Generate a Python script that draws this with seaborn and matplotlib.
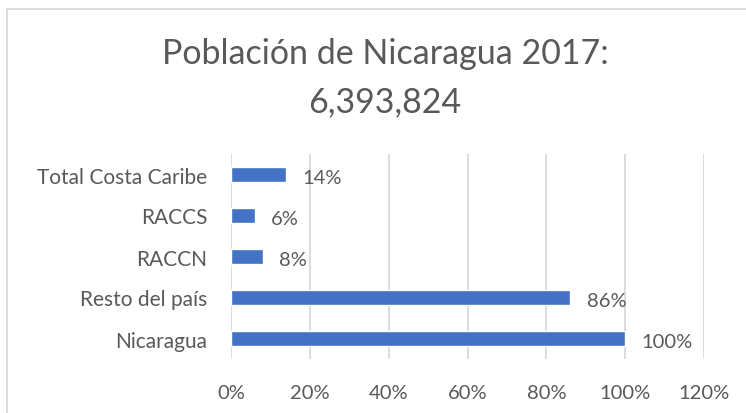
import pandas as pd
import seaborn as sns
from matplotlib import pyplot as plt
from matplotlib.patches import Rectangle

# data
categories = ["Total Costa Caribe", "RACCS", "RACCN", "Resto del país", "Nicaragua"]
shares = [14, 6, 8, 86, 100]
x_ticks = [0, 20, 40, 60, 80, 100, 120]
title = "Población de Nicaragua 2017:\n6,393,824"

BAR = "#4472C4"
TXT = "#595959"
GRID = "#D9D9D9"

sns.set_style("white")
plt.rcParams["font.family"] = ["Lato", "DejaVu Sans"]

df = pd.DataFrame({"region": categories, "share": shares})

W, H = 746, 414
fig = plt.figure(figsize=(W / 100, H / 100), dpi=100)
ax = fig.add_axes([231 / W, 1 - 360 / H, (704 - 231) / W, (360 - 155) / H])

sns.barplot(data=df, x="share", y="region", order=categories, color=BAR,
            width=0.35, saturation=1, ax=ax)

ax.set_xlim(0, 120)
ax.set_xticks(x_ticks)
ax.set_xticklabels([f"{t}%" for t in x_ticks])
ax.set_xlabel("")
ax.set_ylabel("")
ax.grid(axis="x", color=GRID, linewidth=1.3)
ax.set_axisbelow(True)
for s in ax.spines.values():
    s.set_visible(False)
ax.tick_params(axis="x", length=0, pad=18, labelsize=14.5, labelcolor=TXT)
ax.tick_params(axis="y", length=0, pad=17, labelsize=15, labelcolor=TXT)

for i, v in enumerate(shares):
    ax.annotate(f"{v}%", (v, i), xytext=(12, -2), textcoords="offset points",
                ha="left", va="center", fontsize=14.5, color=TXT)

fig.text(385 / W, 1 - 78 / H, title, ha="center", va="center",
         fontsize=24.5, color=TXT, linespacing=1.6)

# chart-area border (right and bottom edges fall outside the crop)
fig.patches.append(Rectangle((7 / W, -0.1), 1.2, 1.1 - 10 / H,
                             transform=fig.transFigure, fill=False,
                             edgecolor=GRID, linewidth=1.3))

fig.savefig("out.png", dpi=100)
